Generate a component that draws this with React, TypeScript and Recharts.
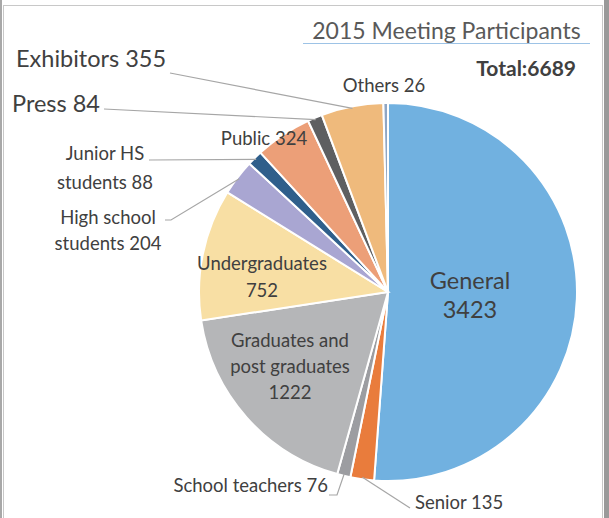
import { PieChart, Pie, Cell } from "recharts";

const CATEGORIES = [
  "General",
  "Senior",
  "School teachers",
  "Graduates and post graduates",
  "Undergraduates",
  "High school students",
  "Junior HS students",
  "Public",
  "Press",
  "Exhibitors",
  "Others",
];

const PARTICIPANTS = [3423, 135, 76, 1222, 752, 204, 88, 324, 84, 355, 26];

// label text split into lines, as in the original
const LABEL_LINES = [
  ["General", "3423"],
  ["Senior 135"],
  ["School teachers 76"],
  ["Graduates and", "post graduates", "1222"],
  ["Undergraduates", "752"],
  ["High school", "students 204"],
  ["Junior HS", "students 88"],
  ["Public 324"],
  ["Press 84"],
  ["Exhibitors 355"],
  ["Others 26"],
];

const TITLE = "2015 Meeting Participants";
const TOTAL_LABEL = "Total:6689";

const COLORS = [
  "#71B1E0", // general
  "#E97C3C", // senior
  "#9C9DA1", // school teachers
  "#B5B6B8", // graduates
  "#F8DFA4", // undergrads
  "#A9A6D2", // high school
  "#2F5F8B", // junior hs
  "#EC9F78", // public
  "#5E5F61", // press
  "#EFBA7C", // exhibitors
  "#8FA6C4", // others
];

const data = CATEGORIES.map((name, i) => ({ name, value: PARTICIPANTS[i] }));

// label placement, offsets from the pie centre (px)
type LabelPos = {
  x: number;
  y: number;
  size: number;
  anchor: "start" | "middle" | "end";
  lh?: number;
  line?: [number, number][];
};

const SMALL = 18.5;
const BIG = 23.5;

const LABEL_POS: LabelPos[] = [
  { x: 82, y: -12, size: BIG, anchor: "middle", lh: 29 },
  { x: 27, y: 210, size: SMALL, anchor: "start", line: [[22, 216]] },
  { x: -60, y: 193, size: SMALL, anchor: "end", line: [[-51, 203], [-59, 203]] },
  { x: -98, y: 48, size: SMALL, anchor: "middle", lh: 26 },
  { x: -126, y: -29, size: SMALL, anchor: "middle", lh: 27 },
  { x: -280, y: -75, size: SMALL, anchor: "middle", lh: 26, line: [[-217, -72], [-223, -72]] },
  { x: -283, y: -139, size: SMALL, anchor: "middle", lh: 29, line: [[-239, -132]] },
  { x: -124, y: -154, size: SMALL, anchor: "middle" },
  { x: -376, y: -189, size: BIG, anchor: "start", line: [[-284, -183]] },
  { x: -372, y: -234, size: BIG, anchor: "start", line: [[-218, -219]] },
  { x: -4, y: -207, size: SMALL, anchor: "middle" },
];

const RAD = Math.PI / 180;

function renderLabel(props: any) {
  const { cx, cy, midAngle, outerRadius, index } = props;
  const pos = LABEL_POS[index];
  const lines = LABEL_LINES[index];
  const lh = pos.lh ?? 0;
  let path: string | null = null;
  if (pos.line) {
    const sx = cx + (outerRadius - 2) * Math.cos(-midAngle * RAD);
    const sy = cy + (outerRadius - 2) * Math.sin(-midAngle * RAD);
    path = "M" + sx + "," + sy + pos.line.map((p) => " L" + (cx + p[0]) + "," + (cy + p[1])).join("");
  }
  return (
    <g key={"label-" + index}>
      {path && <path d={path} stroke="#A6A6A6" strokeWidth={1.2} fill="none" />}
      {lines.map((t, i) => (
        <text
          key={i}
          x={cx + pos.x}
          y={cy + pos.y + i * lh}
          textAnchor={pos.anchor}
          dominantBaseline="central"
          fontSize={pos.size}
          fill="#404040"
          fontFamily="Lato, 'Open Sans', sans-serif"
        >
          {t}
        </text>
      ))}
    </g>
  );
}

export default function App() {
  return (
    <div
      style={{
        position: "absolute",
        left: 0,
        top: 0,
        width: 609,
        height: 518,
        background: "#ffffff",
        overflow: "hidden",
        fontFamily: "Lato, 'Open Sans', sans-serif",
      }}
    >
      <div
        style={{
          position: "absolute",
          left: 3,
          top: 5,
          width: 600,
          height: 520,
          border: "1px solid #C8C8C8",
          boxSizing: "border-box",
        }}
      />
      <div style={{ position: "absolute", left: 604, top: 0, width: 5, height: 518, background: "#9A9A9A" }} />
      <div style={{ position: "absolute", left: 0, top: 0, width: 2, height: 518, background: "#A8A8A8" }} />
      <div
        style={{
          position: "absolute",
          left: 303,
          top: 17,
          width: 287,
          height: 26,
          borderBottom: "1.5px solid #9DC3E6",
          textAlign: "center",
          fontSize: 23,
          color: "#595959",
          lineHeight: "26px",
        }}
      >
        {TITLE}
      </div>
      <div
        style={{
          position: "absolute",
          right: 33,
          top: 55,
          fontSize: 21,
          fontWeight: 700,
          color: "#404040",
          lineHeight: "26px",
        }}
      >
        {TOTAL_LABEL}
      </div>
      <PieChart
        width={609}
        height={518}
        margin={{ top: 0, right: 0, bottom: 0, left: 0 }}
        style={{ position: "absolute", left: 0, top: 0 }}
      >
        <Pie
          data={data}
          dataKey="value"
          nameKey="name"
          cx={388}
          cy={292}
          outerRadius={189}
          startAngle={90}
          endAngle={-270}
          stroke="#ffffff"
          strokeWidth={2}
          label={renderLabel}
          labelLine={false}
          isAnimationActive={false}
        >
          {data.map((_, index) => (
            <Cell key={"cell-" + index} fill={COLORS[index % COLORS.length]} />
          ))}
        </Pie>
      </PieChart>
    </div>
  );
}
